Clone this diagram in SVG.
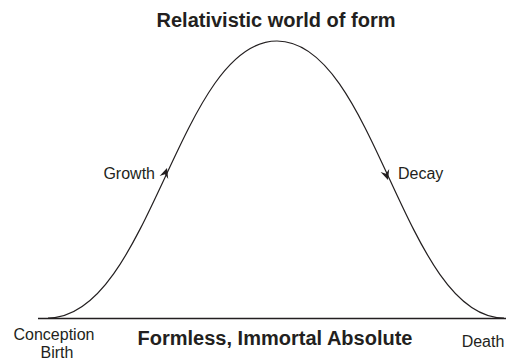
<svg xmlns="http://www.w3.org/2000/svg" width="515" height="360" viewBox="0 0 515 360">
<style>
.t{font-family:"Liberation Sans",Arial,sans-serif;fill:#231f20}
.b{font-weight:bold;font-size:20px}
.r{font-size:16px}
.ln{fill:none;stroke:#231f20}
.ah{fill:#231f20}
</style>
<rect width="515" height="360" fill="#fff"/>
<g id="connectors">
<line class="ln" x1="38" y1="318.5" x2="506" y2="318.5" stroke-width="1.5" stroke="#555"/>
<path class="ln" stroke-width="1.2" d="M48,318 C150,318 179,41 277,41 C375,41 404,318 504,318"/>
<path class="ah" d="M0,0 L-10,-4.5 L-6.5,0 L-10,4.5 Z" transform="translate(167,168) rotate(-72)"/>
<path class="ah" d="M0,0 L-10,-4.5 L-6.5,0 L-10,4.5 Z" transform="translate(388,180) rotate(72)"/>
</g>
<g id="title"><text class="t b" x="276" y="27" text-anchor="middle">Relativistic world of form</text></g>
<g id="absolute"><text class="t b" x="275" y="345" text-anchor="middle">Formless, Immortal Absolute</text></g>
<g id="growth"><text class="t r" x="155" y="179" text-anchor="end">Growth</text></g>
<g id="decay"><text class="t r" x="398" y="179">Decay</text></g>
<g id="birth"><text class="t r" x="54" y="340" text-anchor="middle">Conception</text><text class="t r" x="57" y="358" text-anchor="middle">Birth</text></g>
<g id="death"><text class="t r" x="483" y="347" text-anchor="middle">Death</text></g>
</svg>
